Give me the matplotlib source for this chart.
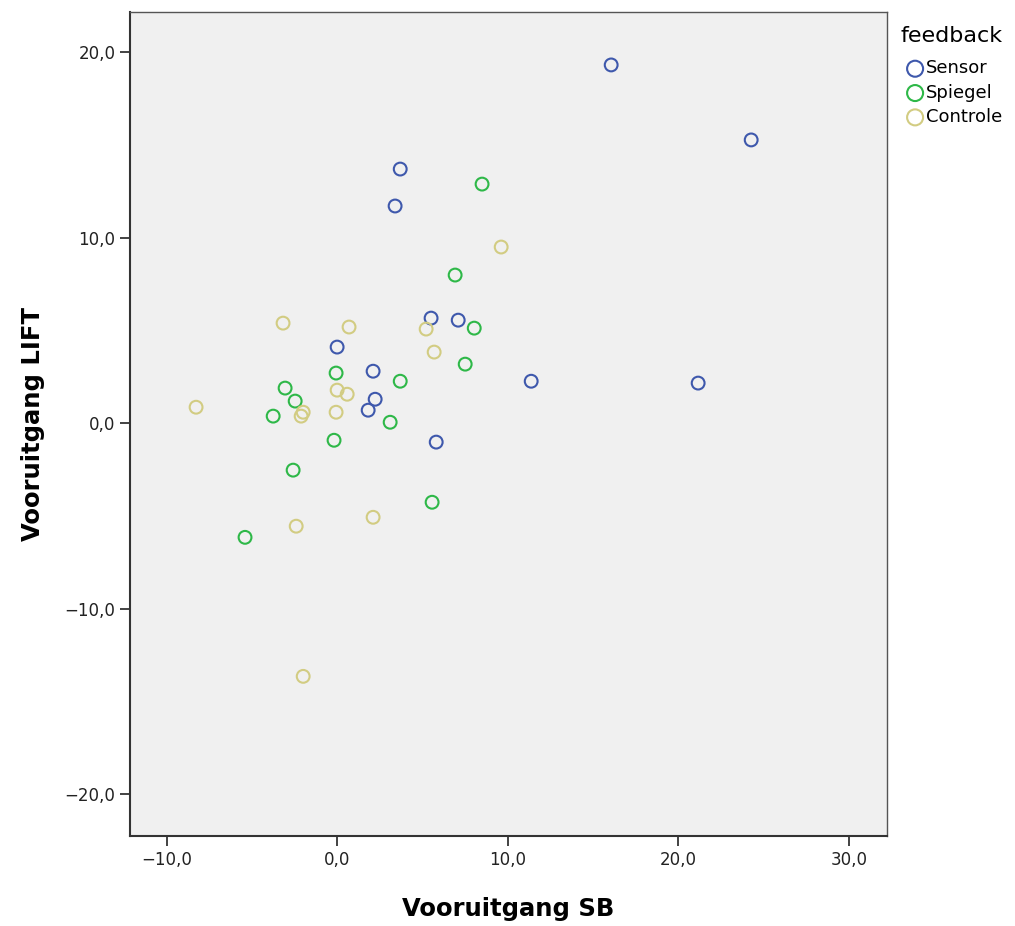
import matplotlib.pyplot as plt

groups = ["Sensor", "Spiegel", "Controle"]
colors = ["#3e58ac", "#2eb848", "#d2cc82"]

sensor_x = [16.07, 24.28, 3.70, 3.40, 5.51, 7.10, 0.0, 2.11, 11.38, 21.17, 2.23, 1.82, 5.81]
sensor_y = [19.30, 15.26, 13.69, 11.70, 5.66, 5.55, 4.10, 2.80, 2.26, 2.16, 1.29, 0.70, -1.02]

spiegel_x = [8.50, 6.92, 8.04, 7.51, -0.06, 3.70, -3.05, -2.46, -3.75, 3.11, -0.18, -2.58, 5.57, -5.40]
spiegel_y = [12.88, 7.98, 5.12, 3.18, 2.70, 2.26, 1.89, 1.19, 0.38, 0.05, -0.92, -2.53, -4.26, -6.15]

controle_x = [9.62, -3.17, 0.70, 5.22, 5.69, 0.0, 0.59, -8.27, -1.99, -2.11, -0.06, 2.11, -2.40, -1.99]
controle_y = [9.49, 5.39, 5.18, 5.07, 3.83, 1.78, 1.56, 0.86, 0.59, 0.38, 0.59, -5.07, -5.55, -13.64]

xticks = [-10, 0, 10, 20, 30]
yticks = [-20, -10, 0, 10, 20]

px = 1 / 100
fig = plt.figure(figsize=(1015 * px, 926 * px), dpi=100)
ax = fig.add_axes([0.128, 0.097, 0.746, 0.890])
ax.set_facecolor("#f0f0f0")

series = [(sensor_x, sensor_y), (spiegel_x, spiegel_y), (controle_x, controle_y)]
for (xs, ys), name, c in zip(series, groups, colors):
    ax.scatter(xs, ys, s=85, facecolors="none", edgecolors=c, linewidths=1.5, label=name)

ax.set_xlim(-12.15, 32.25)
ax.set_ylim(-22.25, 22.15)
ax.set_xticks(xticks)
ax.set_yticks(yticks)
ax.set_xticklabels([f"{t:.1f}".replace(".", ",").replace("-", "\u2212") for t in xticks])
ax.set_yticklabels([f"{t:.1f}".replace(".", ",").replace("-", "\u2212") for t in yticks])
ax.tick_params(direction="out", length=7, width=1.2, labelsize=12, colors="#222222")

for side in ["left", "bottom"]:
    ax.spines[side].set_linewidth(1.5)
    ax.spines[side].set_color("#333333")
for side in ["top", "right"]:
    ax.spines[side].set_linewidth(1.0)
    ax.spines[side].set_color("#555555")

label_font = dict(fontsize=17.5, fontweight="bold",
                  family=["Liberation Sans Narrow", "DejaVu Sans"])
ax.set_xlabel("Vooruitgang SB", labelpad=20, **label_font)
ax.set_ylabel("Vooruitgang LIFT", labelpad=14, **label_font)

leg = ax.legend(title="feedback", loc="upper left", bbox_to_anchor=(1.0, 1.0),
                frameon=False, fontsize=13, title_fontsize=16, handletextpad=-0.2,
                handlelength=1.6, borderaxespad=0.35, labelspacing=0.35,
                markerscale=1.25)
leg._legend_box.align = "left"
leg._legend_box.sep = 10

fig.savefig("out.png", dpi=100)
